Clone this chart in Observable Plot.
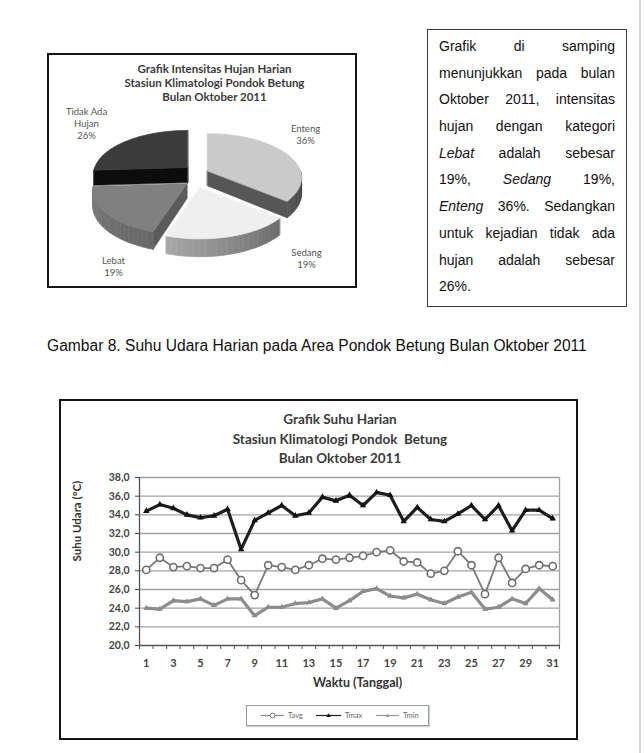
<!DOCTYPE html>
<html><head><meta charset="utf-8">
<script src="https://cdn.jsdelivr.net/npm/d3@7"></script>
<script src="https://cdn.jsdelivr.net/npm/@observablehq/plot@0.6"></script>
<style>
body{margin:0;background:#fff;}
#page{position:relative;width:644px;height:753px;overflow:hidden;background:#fff;font-family:"Liberation Sans",Arial,sans-serif;color:#111;}
.abs{position:absolute;}
.frame{position:absolute;border:2px solid #151515;box-sizing:border-box;pointer-events:none;}
.ttl{position:absolute;text-align:center;font-family:Lato,sans-serif;font-weight:bold;color:#3a3a3a;white-space:nowrap;}
#tb{left:427px;top:29px;width:200px;height:278px;border:1px solid #3a3a3a;box-sizing:border-box;padding:3px 11px 0 11px;font-size:14px;}
#tb .ln{height:26.7px;line-height:26.7px;text-align:justify;text-align-last:justify;white-space:nowrap;}
#tb .ln.last{text-align-last:left;}
#cap{left:47px;top:336.5px;font-size:15.6px;line-height:18px;white-space:nowrap;}
#legend{left:246px;top:705px;width:183px;height:21px;border:1px solid #9a9a9a;box-sizing:border-box;box-shadow:1px 1px 1px #d0d0d0;background:#fff;}
</style></head><body><div id="page"></div>
<script>
// ---------- data ----------
const pieCategories = ["Enteng", "Sedang", "Lebat", "Tidak Ada Hujan"];
const pieLabelLines = [["Enteng"], ["Sedang"], ["Lebat"], ["Tidak Ada", "Hujan"]];
const pieValues = [36, 19, 19, 26];
const pieTitle = ["Grafik Intensitas Hujan Harian", "Stasiun Klimatologi Pondok Betung", "Bulan Oktober 2011"];

const days = [1,2,3,4,5,6,7,8,9,10,11,12,13,14,15,16,17,18,19,20,21,22,23,24,25,26,27,28,29,30,31];
const tavg = [28.1,29.4,28.4,28.5,28.3,28.3,29.2,27.0,25.4,28.6,28.4,28.1,28.6,29.3,29.2,29.4,29.6,30.0,30.2,29.0,28.9,27.7,28.0,30.1,28.6,25.5,29.4,26.7,28.2,28.6,28.5];
const tmax = [34.4,35.1,34.7,34.0,33.7,33.9,34.6,30.3,33.4,34.2,35.0,33.9,34.2,35.9,35.5,36.1,35.0,36.4,36.1,33.3,34.8,33.5,33.3,34.1,35.0,33.5,35.0,32.3,34.5,34.5,33.6];
const tmin = [24.0,23.9,24.8,24.7,25.0,24.3,25.0,25.0,23.2,24.1,24.1,24.5,24.6,25.0,24.0,24.8,25.8,26.1,25.3,25.1,25.5,24.9,24.5,25.2,25.7,23.9,24.1,25.0,24.5,26.1,24.9];
const seriesNames = ["Tavg", "Tmax", "Tmin"];
const yTicks = [20,22,24,26,28,30,32,34,36,38];
const xTickLabels = [1,3,5,7,9,11,13,15,17,19,21,23,25,27,29,31];
const lineTitle = ["Grafik Suhu Harian", "Stasiun Klimatologi Pondok  Betung", "Bulan Oktober 2011"];
const caption = "Gambar 8. Suhu Udara Harian pada Area Pondok Betung Bulan Oktober 2011";
const textLines = [
  "Grafik di samping",
  "menunjukkan pada bulan",
  "Oktober 2011, intensitas",
  "hujan dengan kategori",
  "<i>Lebat</i> adalah sebesar",
  "19%, <i>Sedang</i> 19%,",
  "<i>Enteng</i> 36%. Sedangkan",
  "untuk kejadian tidak ada",
  "hujan adalah sebesar",
  "26%."
];

// ---------- layout / style ----------
const page = document.getElementById("page");
function addEl(html){ const t = document.createElement("div"); t.innerHTML = html; const el = t.firstElementChild; page.appendChild(el); return el; }

// right page edge line
addEl('<div class="abs" style="left:639px;top:0;width:2px;height:753px;background:#d8d8d8"></div>');

// ---------- PIE ----------
const PW = 309, PH = 234;
const P = {cx:149, cy:122.4, R:93, t:0.462, k:0.16, depth:15, ex:12, ey:12.3};
const sliceStyle = [
  {top:"#cacaca", wall:["#3e3e3e","#565656"], side:"#565656"},
  {top:"#efefef", wall:["#6a6a6a","#a8a8a8"], side:"#777777"},
  {top:"#808080", wall:["#686868","#7a7a7a"], side:"#5b5b5b"},
  {top:"#3b3b3b", wall:["#1b1b1b","#1b1b1b"], side:"#0c0c0c"}
];
const labelPos = [[258,80.5],[259,205],[66,213],[39,70]];

function proj(a, r, h, s){
  const X = r*Math.sin(a), Z = r*Math.cos(a);
  const p = 1/(1 + P.k*Z/P.R);
  return {x: P.cx + P.ex*Math.sin(s.mid) + X*p, y: P.cy - P.ey*Math.cos(s.mid) - Z*P.t*p + h*p};
}
function arcPts(a0, a1, h, s){
  const n = Math.max(2, Math.ceil((a1-a0)/(Math.PI/120)));
  const pts = [];
  for (let i = 0; i <= n; i++) pts.push(proj(a0 + (a1-a0)*i/n, P.R, h, s));
  return pts;
}
const arcs = d3.pie().sort(null)(pieValues);
const slices = arcs.map((a,i) => ({i, a0:a.startAngle, a1:a.endAngle, mid:(a.startAngle+a.endAngle)/2}));
slices.sort((p,q) => Math.cos(q.mid) - Math.cos(p.mid));
const pieMarks = [];
const poly = (pts, color) => pieMarks.push(Plot.line(pts, {x:"x", y:"y", curve:"linear-closed", fill:color, stroke:color, strokeWidth:0.7}));
for (const s of slices) {
  const st = sliceStyle[s.i];
  const apexT = proj(0,0,0,s), apexB = proj(0,0,P.depth,s);
  if (Math.sin(s.a0) < -1e-6) poly([apexT, proj(s.a0,P.R,0,s), proj(s.a0,P.R,P.depth,s), apexB], st.side);
  if (Math.sin(s.a1) > 1e-6) poly([apexT, proj(s.a1,P.R,0,s), proj(s.a1,P.R,P.depth,s), apexB], st.side);
  const w0 = Math.max(s.a0, Math.PI/2), w1 = Math.min(s.a1, 3*Math.PI/2);
  if (w1 > w0) {
    const n = Math.max(1, Math.ceil((w1-w0)/(Math.PI/60)));
    const col = d3.interpolateRgb(st.wall[0], st.wall[1]);
    for (let k = 0; k < n; k++) {
      const b0 = w0 + (w1-w0)*k/n, b1 = w0 + (w1-w0)*(k+1)/n;
      poly([proj(b0,P.R,0,s), proj(b1,P.R,0,s), proj(b1,P.R,P.depth,s), proj(b0,P.R,P.depth,s)], col((k+0.5)/n));
    }
  }
  poly([apexT, ...arcPts(s.a0, s.a1, 0, s)], st.top);
}
const pieLabels = pieCategories.map((c,i) => ({text: [...pieLabelLines[i], pieValues[i] + "%"].join("\n"), x: labelPos[i][0], y: labelPos[i][1]}));
pieMarks.push(Plot.text(pieLabels, {x:"x", y:"y", text:"text", fill:"#555", fontSize:9.5, lineHeight:1.27}));

const pie = Plot.plot({
  width: PW, height: PH, margin: 0,
  x: {domain:[0,PW], range:[0,PW], axis:null},
  y: {domain:[0,PH], range:[0,PH], axis:null},
  style: {fontFamily:"Lato, sans-serif", background:"transparent"},
  marks: pieMarks
});
pie.style.position = "absolute"; pie.style.left = "47px"; pie.style.top = "53px";
page.appendChild(pie);
addEl('<div class="frame" style="left:47px;top:53px;width:310px;height:235px"></div>');
addEl('<div class="ttl" style="left:64.5px;top:61.5px;width:300px;font-size:11.5px;line-height:14px">' + pieTitle.join("<br>") + '</div>');

// ---------- text box ----------
addEl('<div id="tb" class="abs">' + textLines.map((l,i) => '<div class="ln' + (i === textLines.length-1 ? ' last' : '') + '">' + l + '</div>').join("") + '</div>');

// ---------- caption ----------
addEl('<div id="cap" class="abs">' + caption + '</div>');

// ---------- LINE CHART ----------
const rows = s => days.map((d,i) => ({day:d, v:s[i]}));
const fmt = d => d.toFixed(1).replace(".", ",");
const bounds = days.map(d => d - 0.5).concat([days[days.length-1] + 0.5]);
const line = Plot.plot({
  width: 516, height: 338,
  marginLeft: 79, marginRight: 17, marginTop: 77, marginBottom: 93,
  x: {domain:[0.5, 31.5], axis:null},
  y: {domain:[20, 38], axis:null},
  style: {fontFamily:"Lato, sans-serif", background:"transparent", color:"#404040"},
  marks: [
    Plot.gridY(yTicks.filter(v => v > 20), {stroke:"#a3a3a3", strokeOpacity:1, strokeWidth:1.3}),
    Plot.ruleX([31.5], {stroke:"#a3a3a3", strokeWidth:1.3}),
    Plot.axisY(yTicks, {tickSize:4, tickPadding:6, tickFormat:fmt, fontWeight:"bold", fontSize:10.5, label:null, color:"#444"}),
    Plot.axisX(bounds, {tickSize:4, tickFormat:() => "", label:null, color:"#555"}),
    Plot.axisX(xTickLabels, {tickSize:0, tickPadding:14, fontWeight:"bold", fontSize:11, label:null, color:"#444"}),
    Plot.ruleX([0.5], {stroke:"#555", strokeWidth:1.3}),
    Plot.ruleY([20], {stroke:"#555", strokeWidth:1.3}),
    Plot.text(["Suhu Udara (°C)"], {frameAnchor:"left", dx:-62, rotate:-90, fontWeight:"bold", fontSize:11.5, fill:"#333"}),
    Plot.text(["Waktu (Tanggal)"], {frameAnchor:"bottom", dx:8, dy:41, fontWeight:"bold", fontSize:12.5, fill:"#333"}),
    Plot.line(rows(tmin), {x:"day", y:"v", stroke:"#8c8c8c", strokeWidth:3.2}),
    Plot.dot(rows(tmin), {x:"day", y:"v", symbol:"triangle", r:2.2, fill:"#8c8c8c"}),
    Plot.line(rows(tavg), {x:"day", y:"v", stroke:"#7a7a7a", strokeWidth:1.8}),
    Plot.dot(rows(tavg), {x:"day", y:"v", r:3.6, fill:"white", stroke:"#6e6e6e", strokeWidth:1.6}),
    Plot.line(rows(tmax), {x:"day", y:"v", stroke:"#1e1e1e", strokeWidth:3.2}),
    Plot.dot(rows(tmax), {x:"day", y:"v", symbol:"triangle", r:2.4, fill:"#111"})
  ]
});
line.style.position = "absolute"; line.style.left = "60px"; line.style.top = "400px";
page.appendChild(line);
addEl('<div class="frame" style="left:59px;top:399px;width:519px;height:341px"></div>');
addEl('<div class="ttl" style="left:190px;top:410.4px;width:300px;font-size:13.5px;line-height:19.5px;white-space:pre">' + lineTitle.join("<br>") + '</div>');

// legend
const legItems = [
  {name: seriesNames[0], x:14, mk:'<circle cx="11.5" cy="0" r="2.4" fill="#fff" stroke="#777" stroke-width="1"/>', stroke:"#888"},
  {name: seriesNames[1], x:69, mk:'<path d="M12.5,-2.2L14.8,1.6L10.2,1.6Z" fill="#111"/>', stroke:"#222"},
  {name: seriesNames[2], x:129, mk:'<path d="M11.5,-1.6L13.3,1.2L9.7,1.2Z" fill="#888"/>', stroke:"#999"}
];
addEl('<div id="legend" class="abs"><svg width="181" height="19" style="display:block">' +
  legItems.map(it => '<g transform="translate(' + it.x + ',9.5)"><line x1="0" x2="' + (it.name === "Tmax" ? 25 : 23) + '" y1="0" y2="0" stroke="' + it.stroke + '" stroke-width="1.2"/>' + it.mk +
  '<text x="' + (it.name === "Tmax" ? 29 : 27) + '" y="2.6" font-family="Lato" font-size="7.5" fill="#666">' + it.name + '</text></g>').join("") +
  '</svg></div>');
</script></body></html>
